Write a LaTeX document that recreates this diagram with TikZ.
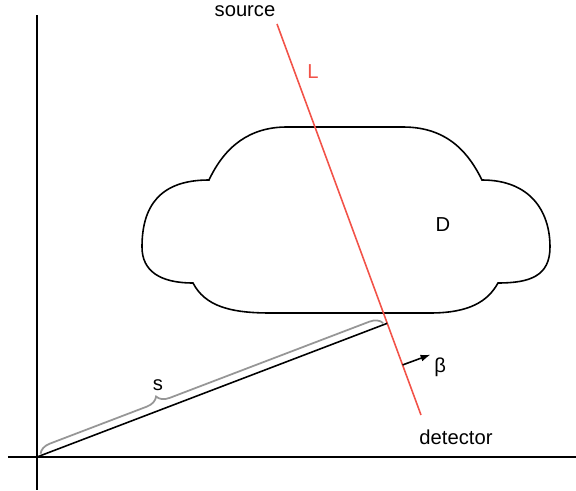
\documentclass[tikz,border=0pt]{standalone}
\usepackage{fontspec}
\setmainfont{Liberation Sans}
\usepackage{tikz}
\usetikzlibrary{arrows.meta,calc,decorations.pathreplacing,positioning}
\definecolor{raysred}{RGB}{242,82,72}
\definecolor{bracegray}{RGB}{150,150,150}
\tikzset{
  axis/.style={black,line width=1pt},
  ray/.style={raysred,line width=0.9pt},
  region/.style={black,line width=0.9pt},
  offset/.style={black,line width=0.9pt},
  flow/.style={-{Latex[length=2mm,width=1.4mm]},line width=0.9pt},
  brc/.style={bracegray,line width=1pt,decorate,
              decoration={brace,amplitude=7pt,aspect=0.35,raise=1pt}},
  lab/.style={font=\fontsize{11.5}{13}\selectfont,inner sep=1pt},
}

\begin{document}
\begin{tikzpicture}[x=0.02cm,y=0.02cm]
  \path[use as bounding box] (0,0) rectangle (576,491);

  % axes
  \coordinate (origin) at (37,34);
  \coordinate (ytop) at (37,476);
  \coordinate (ybot) at (37,1);
  \coordinate (xleft) at (8,34);
  \coordinate (xright) at (576,34);
  \draw[axis] (ybot) -- (ytop);
  \draw[axis] (xleft) -- (xright);

  % the region D
  \draw[region] (287,364) -- (403,364)
    .. controls (450,364) and (470,335) .. (482,311)
    .. controls (530,311) and (550,280) .. (550,244)
    .. controls (550,215) and (530,208) .. (498,208)
    .. controls (488,190) and (470,178) .. (430,178)
    -- (270,178)
    .. controls (230,178) and (205,185) .. (193,208)
    .. controls (160,208) and (142,220) .. (142,244)
    .. controls (142,285) and (160,311) .. (209,311)
    .. controls (225,345) and (250,364) .. (287,364) -- cycle;
  \node[lab] (dlab) at (443,266) {D};

  % the line L
  \coordinate (src) at (277,467);
  \coordinate (det) at (421,76);
  \draw[ray] (src) -- (det);
  \node[lab,anchor=south] (srclab) at (245,472) {source};
  \node[lab,text=raysred] (llab) at (313,419) {L};
  \node[lab] (detlab) at (456,54) {detector};

  % offset s and direction beta
  \coordinate (foot) at ($(src)!0.7655!(det)$);
  \draw[offset] (origin) -- (foot);
  \draw[brc] ($(origin)!0.012!(foot)$) -- ($(origin)!0.99!(foot)$);
  \node[lab] (slab) at (158,106) {s};
  \coordinate (btail) at ($(src)!0.872!(det)$);
  \coordinate (bhead) at ($(btail)!17pt!90:(det)$);
  \draw[flow] (btail) -- (bhead);
  \node[lab,right=1pt of bhead,yshift=-7pt] (blab) {β};
\end{tikzpicture}
\end{document}
